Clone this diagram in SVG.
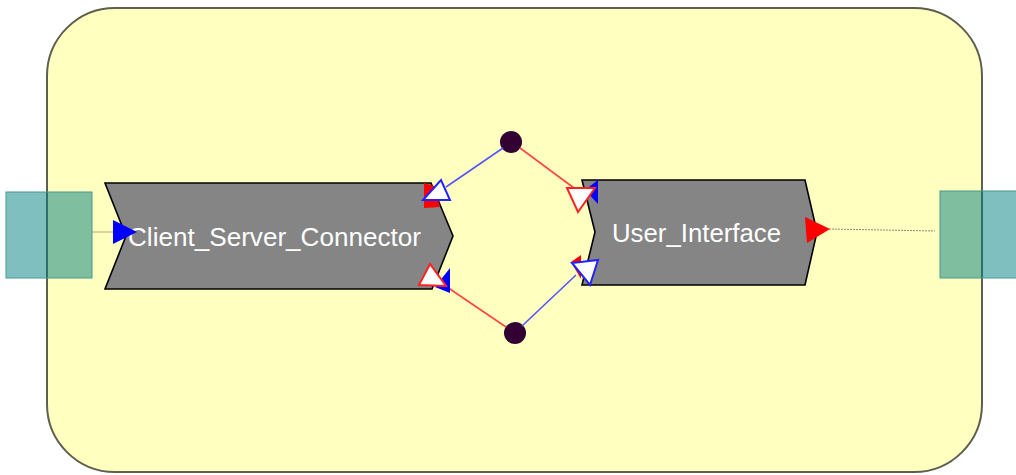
<svg xmlns="http://www.w3.org/2000/svg" width="1016" height="475" viewBox="0 0 1016 475">
  <style>
    .comp { fill: #858585; stroke: #000; stroke-width: 1.6; }
    .label { font-family: "Liberation Sans", Arial, sans-serif; font-size: 25px; fill: #ffffff; }
    .dot { fill: #330033; }
    .port { fill: #008080; fill-opacity: 0.5; stroke: #4a9a90; stroke-width: 1; }
    .blue-line { stroke: #5555ff; stroke-width: 1.6; fill: none; }
    .red-line { stroke: #ff4444; stroke-width: 1.6; fill: none; }
    .hollow-blue { fill: #ffffff; stroke: #2222ff; stroke-width: 2; stroke-linejoin: miter; }
    .hollow-red { fill: #ffffff; stroke: #ff2222; stroke-width: 2; stroke-linejoin: miter; }
    .solid-red { fill: #ff0000; }
    .solid-blue { fill: #0000ff; }
  </style>
  <rect width="1016" height="475" fill="#ffffff"/>
  <g id="container">
    <rect x="47" y="8" width="935" height="464" rx="68" ry="68" fill="#ffffc0" stroke="#5f5f50" stroke-width="2"/>
  </g>
  <g id="Client_Server_Connector">
    <polygon class="comp" points="105,183 431,183 453,236 432,289 105,289 126,236"/>
    <text class="label" x="128" y="246" textLength="293" lengthAdjust="spacingAndGlyphs">Client_Server_Connector</text>
  </g>
  <g id="User_Interface">
    <polygon class="comp" points="582,180 805,180 817,232 805,285 582,285 595,232"/>
    <text class="label" x="612" y="242" textLength="169" lengthAdjust="spacingAndGlyphs">User_Interface</text>
  </g>
  <g id="dot_top"><circle class="dot" cx="511" cy="142" r="11"/></g>
  <g id="dot_bottom"><circle class="dot" cx="515" cy="333" r="11"/></g>
  <g id="connectors">
    <line x1="92" y1="232" x2="114" y2="232" stroke="#b8a878" stroke-width="1"/>
    <polygon class="solid-blue" points="113,220 137,232 113,244"/>
    <line x1="829" y1="229" x2="935" y2="231" stroke="#8a8a80" stroke-width="1" stroke-dasharray="2,1"/>
    <polygon class="solid-red" points="805,217 830,229 807,243"/>
    <line class="blue-line" x1="503" y1="148" x2="446" y2="187"/>
    <line class="red-line" x1="520" y1="148" x2="574" y2="188"/>
    <line class="red-line" x1="506" y1="327" x2="444" y2="285"/>
    <line class="blue-line" x1="522" y1="326" x2="576" y2="275"/>
    <polygon class="solid-red" points="424,183 434,186 440,207 424,208"/>
    <polygon class="hollow-blue" points="423,200 450,200 441,180"/>
    <polygon class="solid-blue" points="450,268 450,293 435,287"/>
    <polygon class="hollow-red" points="430,264 419,285 446,286"/>
    <polygon class="solid-blue" points="598,180 598,204 585,190"/>
    <polygon class="hollow-red" points="567,188 595,188 578,212"/>
    <polygon class="solid-red" points="581,255 571,262 581,279"/>
    <polygon class="hollow-blue" points="572,263 598,260 590,285"/>
  </g>
  <g id="port_left"><rect class="port" x="6" y="192" width="86" height="86"/></g>
  <g id="port_right"><rect class="port" x="940" y="191" width="80" height="87"/></g>
</svg>
